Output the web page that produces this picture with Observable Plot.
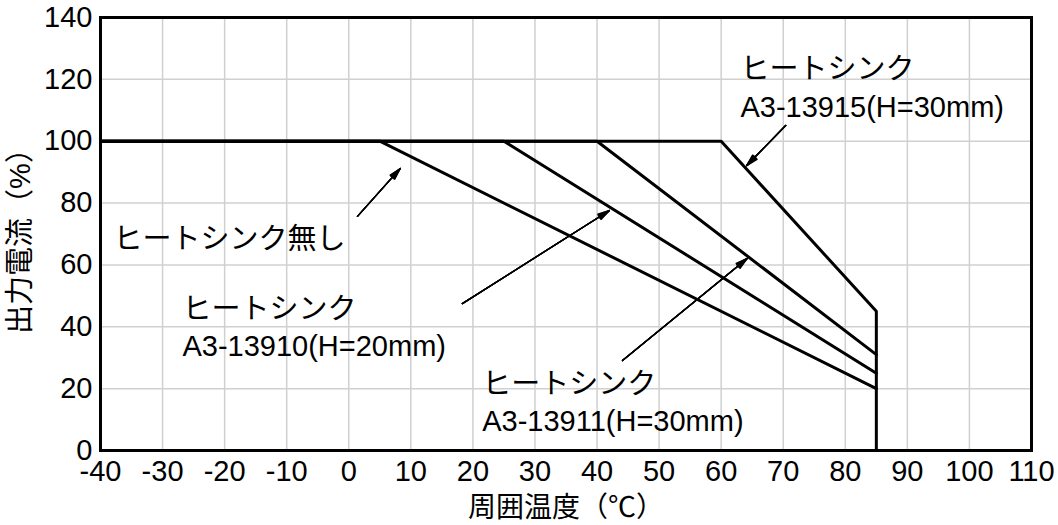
<!DOCTYPE html>
<html>
<head>
<meta charset="utf-8">
<script src="https://cdn.jsdelivr.net/npm/d3@7"></script>
<script src="https://cdn.jsdelivr.net/npm/@observablehq/plot@0.6"></script>
<style>
  html, body { margin: 0; padding: 0; background: #fff; }
  svg { display: block; }
</style>
</head>
<body>
<div id="chart"></div>
<script>
// ---- data ----
const xTicks = [-40, -30, -20, -10, 0, 10, 20, 30, 40, 50, 60, 70, 80, 90, 100, 110];
const yTicks = [0, 20, 40, 60, 80, 100, 120, 140];

// derating curves: temperature (°C) vs output current (%)
const noSinkX = [-40, 5, 85];
const noSinkY = [100, 100, 20];
const sink13910X = [-40, 25, 85];
const sink13910Y = [100, 100, 25];
const sink13911X = [-40, 40, 85];
const sink13911Y = [100, 100, 31];
const sink13915X = [-40, 60, 85, 85];
const sink13915Y = [100, 100, 45, 0];

// annotations (data units)
const labelText = ["ヒートシンク無し", "ヒートシンク\nA3-13910(H=20mm)", "ヒートシンク\nA3-13911(H=30mm)", "ヒートシンク\nA3-13915(H=30mm)"];
const labelX = [-37.9, -26.8, 21.5, 63.1];
const labelY = [69.2, 40.4, 16.2, 117.8];
const arrowX1 = [1.4, 18.3, 44.1, 70.4];
const arrowY1 = [75.7, 47.5, 29.1, 105.1];
const arrowX2 = [8.3, 42.0, 64.2, 64.1];
const arrowY2 = [91.2, 77.6, 62.1, 92.1];

// ---- build ----
const series = [
  {x: noSinkX, y: noSinkY},
  {x: sink13910X, y: sink13910Y},
  {x: sink13911X, y: sink13911Y},
  {x: sink13915X, y: sink13915Y}
];
const lineData = series.flatMap((s, k) => s.x.map((x, i) => ({k, x, y: s.y[i]})));
const labels = labelText.map((t, i) => ({t, x: labelX[i], y: labelY[i]}));
const arrows = arrowX1.map((x1, i) => ({x1, y1: arrowY1[i], x2: arrowX2[i], y2: arrowY2[i]}));

const FONT = '"Liberation Sans", "Noto Sans CJK JP", sans-serif';

const headMarks = [6, 12, 18, 24, 30].map(a => Plot.arrow(arrows, {
  x1: "x1", y1: "y1", x2: "x2", y2: "y2",
  stroke: "black", strokeWidth: 1.3, headAngle: a, headLength: 14
}));

const chart = Plot.plot({
  width: 1058,
  height: 525,
  marginLeft: 100,
  marginRight: 27,
  marginTop: 17,
  marginBottom: 75,
  style: {fontFamily: FONT, background: "white", color: "black"},
  x: {domain: [-40, 110]},
  y: {domain: [0, 140]},
  marks: [
    Plot.gridX(xTicks, {stroke: "#d0d0d0", strokeOpacity: 1, strokeWidth: 1.5}),
    Plot.gridY(yTicks, {stroke: "#d0d0d0", strokeOpacity: 1, strokeWidth: 1.5}),
    Plot.axisX(xTicks, {tickSize: 0, tickPadding: 10, fontSize: 29, label: null, tickFormat: d => `${d}`}),
    Plot.axisY(yTicks, {tickSize: 0, tickPadding: 8, fontSize: 29, label: null, tickFormat: d => `${d}`}),
    Plot.text(labels, {
      x: "x", y: "y", text: "t", textAnchor: "start", lineAnchor: "middle",
      lineHeight: 1.3, fontSize: 29, fill: "black", ariaLabel: "annotations",
      fontFamily: FONT
    }),
    Plot.line(lineData, {x: "x", y: "y", z: "k", stroke: "black", strokeWidth: 3, strokeLinejoin: "miter"}),
    ...headMarks,
    Plot.text(["周囲温度（℃）"], {
      frameAnchor: "bottom", dy: 58, fontSize: 28, fill: "black", lineAnchor: "middle", textAnchor: "middle",
      fontFamily: FONT
    }),
    Plot.text(["出力電流（%）"], {
      frameAnchor: "left", dx: -80, rotate: -90, fontSize: 29, fill: "black", lineAnchor: "middle", textAnchor: "middle",
      fontFamily: FONT
    }),
    Plot.frame({stroke: "black", strokeWidth: 3})
  ]
});
document.getElementById("chart").appendChild(chart);

// white boxes behind annotation texts (hide the grid under them)
const NS = "http://www.w3.org/2000/svg";
chart.querySelectorAll('g[aria-label="annotations"] text').forEach(t => {
  const b = t.getBBox();
  const r = document.createElementNS(NS, "rect");
  const pad = 6;
  r.setAttribute("x", b.x - pad);
  r.setAttribute("y", b.y - 2);
  r.setAttribute("width", b.width + 2 * pad);
  r.setAttribute("height", b.height + 4);
  r.setAttribute("fill", "white");
  if (t.getAttribute("transform")) r.setAttribute("transform", t.getAttribute("transform"));
  t.parentNode.insertBefore(r, t);
});
</script>
</body>
</html>
